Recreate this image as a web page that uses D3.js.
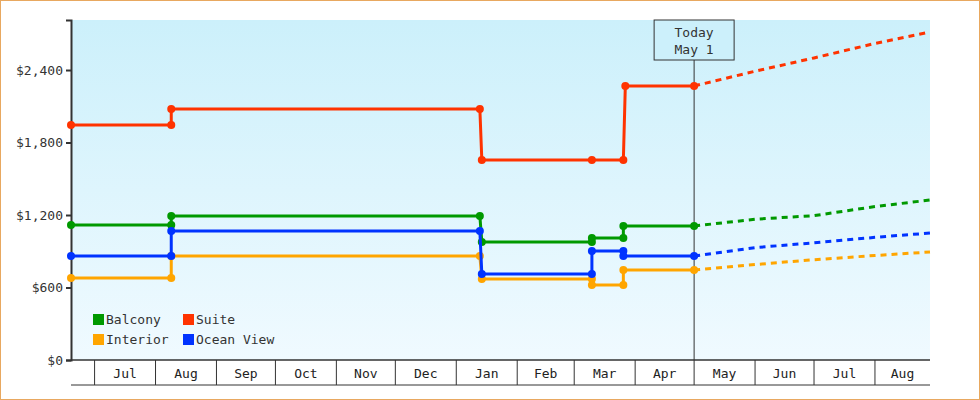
<!DOCTYPE html>
<html><head><meta charset="utf-8">
<script src="https://cdn.jsdelivr.net/npm/d3@7"></script>
<style>
body{margin:0;background:#fff}
svg{display:block;font-family:"DejaVu Sans Mono",monospace}
</style></head>
<body><div id="chart"></div>
<script>
// Chart data
var seriesNames = ["Balcony", "Suite", "Interior", "Ocean View"];
var seriesColors = ["#009900", "#ff3300", "#ffa500", "#0033ff"];
var monthLabels = ["Jul","Aug","Sep","Oct","Nov","Dec","Jan","Feb","Mar","Apr","May","Jun","Jul","Aug"];
var yTicks = [0, 600, 1200, 1800, 2400];

var balcony = [["2023-06-19",1117],["2023-08-09",1117],["2023-08-09",1192],["2024-01-13",1192],["2024-01-14",977],["2024-03-10",977],["2024-03-10",1010],["2024-03-26",1010],["2024-03-26",1109],["2024-05-01",1109]];
var suite = [["2023-06-19",1945],["2023-08-09",1945],["2023-08-09",2077],["2024-01-13",2077],["2024-01-14",1655],["2024-03-10",1655],["2024-03-26",1655],["2024-03-27",2268],["2024-05-01",2268]];
var interior = [["2023-06-19",679],["2023-08-09",679],["2023-08-09",861],["2024-01-13",861],["2024-01-14",670],["2024-03-10",670],["2024-03-10",621],["2024-03-26",621],["2024-03-26",745],["2024-05-01",745]];
var oceanView = [["2023-06-19",861],["2023-08-09",861],["2023-08-09",1068],["2024-01-13",1068],["2024-01-14",712],["2024-03-10",712],["2024-03-10",902],["2024-03-26",902],["2024-03-26",861],["2024-05-01",861]];

var balconyForecast = [["2024-05-01",1109],["2024-06-01",1165],["2024-07-01",1195],["2024-08-01",1270],["2024-08-29",1324]];
var suiteForecast = [["2024-05-01",2268],["2024-06-01",2390],["2024-07-01",2500],["2024-08-01",2620],["2024-08-29",2714]];
var interiorForecast = [["2024-05-01",745],["2024-06-01",790],["2024-07-01",830],["2024-08-01",865],["2024-08-29",894]];
var oceanForecast = [["2024-05-01",861],["2024-06-01",930],["2024-07-01",970],["2024-08-01",1015],["2024-08-29",1051]];

var pastSeries = [balcony, suite, interior, oceanView];
var forecastSeries = [balconyForecast, suiteForecast, interiorForecast, oceanForecast];
var todayDate = "2024-05-01";

var svgWidth = 980, svgHeight = 400;
var margin = {top: 20, right: 50, bottom: 40, left: 71};
var chartWidth = svgWidth - margin.left - margin.right;
var chartHeight = svgHeight - margin.top - margin.bottom;
var parse = d3.timeParse("%Y-%m-%d");

var svg = d3.select("#chart").append("svg")
  .attr("width", svgWidth).attr("height", svgHeight);

// outer border
svg.append("rect").attr("x", 0.5).attr("y", 0.5)
  .attr("width", svgWidth - 1).attr("height", svgHeight - 1)
  .attr("fill", "#fff").attr("stroke", "#e8a860");

var grad = svg.append("defs").append("linearGradient")
  .attr("id", "bg").attr("x1", 0).attr("y1", 0).attr("x2", 0).attr("y2", 1);
grad.append("stop").attr("offset", "0%").attr("stop-color", "#ccf0fb");
grad.append("stop").attr("offset", "100%").attr("stop-color", "#f0faff");

var chartGroup = svg.append("g")
  .attr("transform", `translate(${margin.left}, ${margin.top})`);

chartGroup.append("rect").attr("width", chartWidth).attr("height", chartHeight)
  .attr("fill", "url(#bg)");

var x = d3.scaleTime()
  .domain([parse("2023-06-19"), parse("2024-08-29")])
  .range([0, chartWidth]);
var y = d3.scaleLinear().domain([0, 2814]).range([chartHeight, 0]);

// y axis
var leftAxis = d3.axisLeft(y).tickValues(yTicks).tickSize(5)
  .tickFormat(d => "$" + d3.format(",")(d));
var yAxisG = chartGroup.append("g").call(leftAxis);
yAxisG.select(".domain").attr("stroke", "#333").attr("stroke-width", 2);
yAxisG.selectAll(".tick line").attr("stroke", "#333").attr("stroke-width", 2);
yAxisG.selectAll("text").attr("font-size", 13).attr("fill", "#333")
  .attr("font-family", "DejaVu Sans Mono");

// x axis band with month separators
var monthStarts = d3.timeMonth.range(parse("2023-07-01"), parse("2024-09-01"));
var xg = chartGroup.append("g").attr("transform", `translate(0, ${chartHeight})`);
xg.append("line").attr("x1", 0).attr("x2", chartWidth).attr("y1", 0).attr("y2", 0)
  .attr("stroke", "#333").attr("stroke-width", 1.5);
xg.append("line").attr("x1", 0).attr("x2", chartWidth).attr("y1", 25).attr("y2", 25)
  .attr("stroke", "#333");
monthStarts.forEach(function(m, i) {
  if (x(m) < chartWidth)
    xg.append("line").attr("x1", x(m)).attr("x2", x(m)).attr("y1", 0).attr("y2", 25)
      .attr("stroke", "#333");
  var next = i + 1 < monthStarts.length ? x(monthStarts[i + 1]) : chartWidth;
  if (i < monthLabels.length)
    xg.append("text").attr("x", (x(m) + Math.min(next, chartWidth)) / 2).attr("y", 18)
      .attr("text-anchor", "middle").attr("font-size", 13).attr("fill", "#222")
      .text(monthLabels[i]);
});

// today marker
var tx = x(parse(todayDate));
chartGroup.append("line").attr("x1", tx).attr("x2", tx).attr("y1", 40).attr("y2", chartHeight)
  .attr("stroke", "#333");
chartGroup.append("rect").attr("x", tx - 40).attr("y", 0).attr("width", 80).attr("height", 40)
  .attr("fill", "#ccf0fb").attr("stroke", "#333");
chartGroup.append("text").attr("x", tx).attr("y", 17).attr("text-anchor", "middle")
  .attr("font-size", 13).attr("fill", "#333").text("Today");
chartGroup.append("text").attr("x", tx).attr("y", 34).attr("text-anchor", "middle")
  .attr("font-size", 13).attr("fill", "#333").text("May 1");

var drawLine = d3.line().x(d => x(parse(d[0]))).y(d => y(d[1]));

forecastSeries.forEach(function(s, i) {
  chartGroup.append("path").attr("d", drawLine(s)).attr("fill", "none")
    .attr("stroke", seriesColors[i]).attr("stroke-width", 3)
    .attr("stroke-dasharray", "6 5");
});

pastSeries.forEach(function(s, i) {
  chartGroup.append("path").attr("d", drawLine(s)).attr("fill", "none")
    .attr("stroke", seriesColors[i]).attr("stroke-width", 3);
  chartGroup.selectAll(null).data(s).enter().append("circle")
    .attr("cx", d => x(parse(d[0]))).attr("cy", d => y(d[1])).attr("r", 4)
    .attr("fill", seriesColors[i]);
});

// legend
var legend = chartGroup.append("g").attr("transform", "translate(22, 294)");
seriesNames.forEach(function(name, i) {
  var g = legend.append("g")
    .attr("transform", `translate(${(i % 2) * 90}, ${Math.floor(i / 2) * 20})`);
  g.append("rect").attr("width", 11).attr("height", 11).attr("fill", seriesColors[i]);
  g.append("text").attr("x", 13).attr("y", 10).attr("font-size", 13).attr("fill", "#333")
    .text(name);
});
</script></body></html>
